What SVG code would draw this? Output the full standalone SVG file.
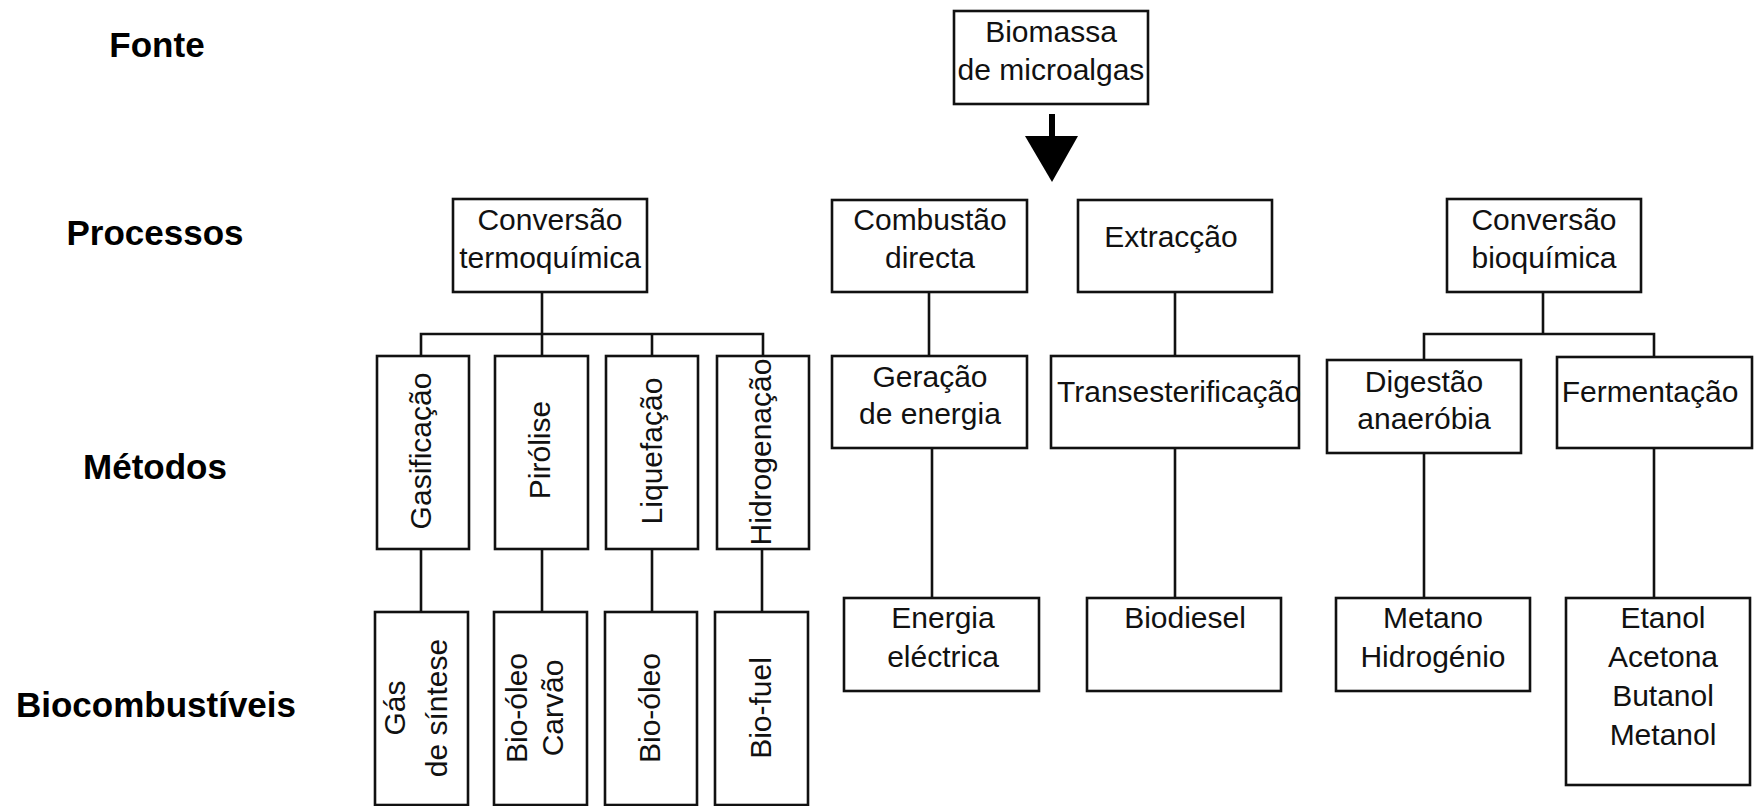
<svg xmlns="http://www.w3.org/2000/svg" width="1757" height="806" viewBox="0 0 1757 806">
<style>
.b{fill:#fff;stroke:#111;stroke-width:2.6}
.t{font-family:"Liberation Sans",Arial,sans-serif;font-size:30px;fill:#111;text-anchor:middle}
.h{font-family:"Liberation Sans",Arial,sans-serif;font-size:35px;font-weight:bold;fill:#000;text-anchor:middle}
.c{fill:none;stroke:#111;stroke-width:2.6}
</style>
<rect width="1757" height="806" fill="#fff"/>
<g id="labels">
<text class="h" x="157" y="57">Fonte</text>
<text class="h" x="155" y="245">Processos</text>
<text class="h" x="155" y="479">Métodos</text>
<text class="h" x="156" y="717">Biocombustíveis</text>
</g>
<g id="connectors">
<rect x="1049" y="114" width="6" height="24" fill="#000"/>
<polygon points="1025,136 1078,136 1052,182" fill="#000"/>
<path class="c" d="M542,292V334M421,356V334H763V356M542,334V356M652,334V356"/>
<path class="c" d="M421,549V612M542,549V612M652,549V612M762,549V612"/>
<path class="c" d="M929,292V356M932,448V598"/>
<path class="c" d="M1175,292V356M1175,448V598"/>
<path class="c" d="M1543,292V334M1424,360V334H1654V357"/>
<path class="c" d="M1424,448V598M1654,448V598"/>
</g>
<g id="n-biomassa"><rect class="b" x="954" y="11" width="194" height="93"/><text class="t" x="1051" y="42">Biomassa</text><text class="t" x="1051" y="80">de microalgas</text></g>
<g id="n-termo"><rect class="b" x="453" y="199" width="194" height="93"/><text class="t" x="550" y="230">Conversão</text><text class="t" x="550" y="268">termoquímica</text></g>
<g id="n-combustao"><rect class="b" x="832" y="200" width="195" height="92"/><text class="t" x="930" y="230">Combustão</text><text class="t" x="930" y="268">directa</text></g>
<g id="n-extraccao"><rect class="b" x="1078" y="200" width="194" height="92"/><text class="t" x="1171" y="247">Extracção</text></g>
<g id="n-bioq"><rect class="b" x="1447" y="199" width="194" height="93"/><text class="t" x="1544" y="230">Conversão</text><text class="t" x="1544" y="268">bioquímica</text></g>
<g id="n-gasificacao"><rect class="b" x="377" y="356" width="92" height="193"/><text class="t" transform="translate(431,451) rotate(-90)">Gasificação</text></g>
<g id="n-pirolise"><rect class="b" x="495" y="356" width="93" height="193"/><text class="t" transform="translate(550,450) rotate(-90)">Pirólise</text></g>
<g id="n-liquefacao"><rect class="b" x="606" y="356" width="92" height="193"/><text class="t" transform="translate(662,451) rotate(-90)">Liquefação</text></g>
<g id="n-hidrogenacao"><rect class="b" x="717" y="356" width="92" height="193"/><text class="t" transform="translate(771,452) rotate(-90)">Hidrogenação</text></g>
<g id="n-geracao"><rect class="b" x="832" y="356" width="195" height="92"/><text class="t" x="930" y="387">Geração</text><text class="t" x="930" y="424">de energia</text></g>
<g id="n-trans"><rect class="b" x="1051" y="356" width="248" height="92"/><text class="t" x="1179" y="402">Transesterificação</text></g>
<g id="n-digestao"><rect class="b" x="1327" y="360" width="194" height="93"/><text class="t" x="1424" y="392">Digestão</text><text class="t" x="1424" y="429">anaeróbia</text></g>
<g id="n-fermentacao"><rect class="b" x="1557" y="357" width="195" height="91"/><text class="t" x="1650" y="402">Fermentação</text></g>
<g id="n-gas"><rect class="b" x="375" y="612" width="93" height="193"/><text class="t" transform="translate(405,708) rotate(-90)">Gás</text><text class="t" transform="translate(447,708) rotate(-90)">de síntese</text></g>
<g id="n-biooleo-carvao"><rect class="b" x="494" y="612" width="93" height="193"/><text class="t" transform="translate(527,708) rotate(-90)">Bio-óleo</text><text class="t" transform="translate(563,708) rotate(-90)">Carvão</text></g>
<g id="n-biooleo"><rect class="b" x="605" y="612" width="92" height="193"/><text class="t" transform="translate(660,708) rotate(-90)">Bio-óleo</text></g>
<g id="n-biofuel"><rect class="b" x="715" y="612" width="93" height="193"/><text class="t" transform="translate(771,708) rotate(-90)">Bio-fuel</text></g>
<g id="n-energia"><rect class="b" x="844" y="598" width="195" height="93"/><text class="t" x="943" y="628">Energia</text><text class="t" x="943" y="667">eléctrica</text></g>
<g id="n-biodiesel"><rect class="b" x="1087" y="598" width="194" height="93"/><text class="t" x="1185" y="628">Biodiesel</text></g>
<g id="n-metano"><rect class="b" x="1336" y="598" width="194" height="93"/><text class="t" x="1433" y="628">Metano</text><text class="t" x="1433" y="667">Hidrogénio</text></g>
<g id="n-etanol"><rect class="b" x="1566" y="598" width="184" height="187"/><text class="t" x="1663" y="628">Etanol</text><text class="t" x="1663" y="667">Acetona</text><text class="t" x="1663" y="706">Butanol</text><text class="t" x="1663" y="745">Metanol</text></g>
</svg>
